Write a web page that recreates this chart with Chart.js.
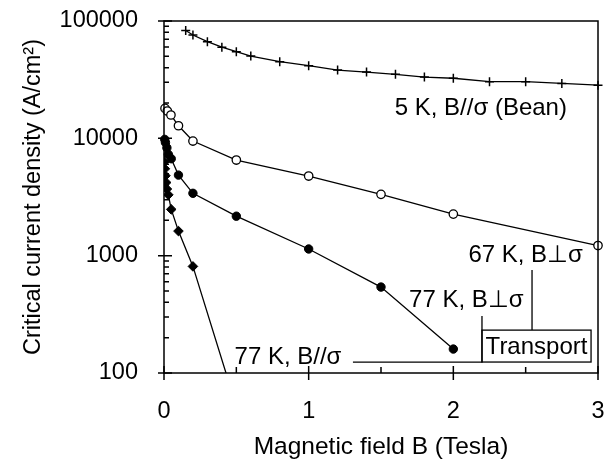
<!DOCTYPE html>
<html>
<head>
<meta charset="utf-8">
<script src="https://cdn.jsdelivr.net/npm/chart.js@4/dist/chart.umd.min.js"></script>
<style>
  html, body { margin: 0; padding: 0; background: #fff; }
  #wrap { width: 611px; height: 461px; position: relative; }
</style>
</head>
<body>
<div id="wrap"><canvas id="jcChart"></canvas></div>
<script>
// field B (Tesla) and critical current density (A/cm2)
var bean5K_B  = [0.15, 0.2, 0.3, 0.4, 0.5, 0.6, 0.8, 1.0, 1.2, 1.4, 1.6, 1.8, 2.0, 2.25, 2.5, 2.75, 3.0];
var bean5K_Jc = [83000, 76000, 66700, 59800, 54700, 50300, 45000, 41600, 38200, 36700, 35100, 33300, 32500, 30400, 30400, 29400, 28400];

var perp67K_B  = [0.007, 0.023, 0.048, 0.1, 0.2, 0.5, 1.0, 1.5, 2.0, 3.0];
var perp67K_Jc = [18000, 17100, 15800, 12800, 9480, 6530, 4770, 3330, 2260, 1220];

var perp77K_B  = [0.005, 0.01, 0.02, 0.03, 0.05, 0.1, 0.2, 0.5, 1.0, 1.5, 2.0];
var perp77K_Jc = [9800, 9200, 8300, 7300, 6700, 4860, 3400, 2170, 1140, 540, 160];

var par77K_B  = [0.003, 0.006, 0.01, 0.015, 0.02, 0.03, 0.05, 0.1, 0.2, 0.5];
var par77K_Jc = [6300, 5500, 4800, 4200, 3700, 3300, 2480, 1620, 810, 52];

var xTicks = [0, 1, 2, 3];
var xMinorTicks = [0.5, 1.5, 2.5];
var yTicks = [100, 1000, 10000, 100000];

// annotation text, placed in data units
var labels = [
  {text: '5 K, B//\u03c3 (Bean)', x: 2.19, y: 18100},
  {text: '67 K, B\u22a5\u03c3', x: 2.50, y: 1010},
  {text: '77 K, B\u22a5\u03c3', x: 2.09, y: 419},
  {text: '77 K, B//\u03c3', x: 0.857, y: 137}
];

var FONT = '"Liberation Sans", Arial, sans-serif';

function pairs(xs, ys) {
  return xs.map(function(x, i) { return {x: x, y: ys[i]}; });
}

var frameAndNotes = {
  id: 'frameAndNotes',
  afterDatasetsDraw: function(chart) {
    var ctx = chart.ctx;
    var a = chart.chartArea;
    var xs = chart.scales.x, ys = chart.scales.y;
    ctx.save();
    ctx.strokeStyle = '#000';
    ctx.lineWidth = 1.5;
    ctx.strokeRect(a.left, a.top, a.right - a.left, a.bottom - a.top);

    ctx.beginPath();
    // y ticks: majors cross the axis, minors point inward
    yTicks.forEach(function(v) {
      var py = ys.getPixelForValue(v);
      ctx.moveTo(a.left - 6, py); ctx.lineTo(a.left + 8, py);
    });
    for (var d = 100; d < 100000; d *= 10) {
      for (var k = 2; k <= 9; k++) {
        var py = ys.getPixelForValue(d * k);
        ctx.moveTo(a.left, py); ctx.lineTo(a.left + 5, py);
      }
    }
    xTicks.forEach(function(v) {
      var px = xs.getPixelForValue(v);
      ctx.moveTo(px, a.bottom + 7); ctx.lineTo(px, a.bottom - 7);
    });
    xMinorTicks.forEach(function(v) {
      var px = xs.getPixelForValue(v);
      ctx.moveTo(px, a.bottom); ctx.lineTo(px, a.bottom - 6);
    });
    ctx.stroke();

    // text labels
    ctx.fillStyle = '#000';
    ctx.font = '24px ' + FONT;
    ctx.textAlign = 'center';
    ctx.textBaseline = 'middle';
    labels.forEach(function(l) {
      ctx.fillText(l.text, xs.getPixelForValue(l.x), ys.getPixelForValue(l.y));
    });

    // "Transport" box with its leader lines
    var bx0 = xs.getPixelForValue(2.198), bx1 = xs.getPixelForValue(2.952);
    var by0 = ys.getPixelForValue(232), by1 = ys.getPixelForValue(124);
    ctx.lineWidth = 1.3;
    ctx.strokeRect(bx0, by0, bx1 - bx0, by1 - by0);
    ctx.fillText('Transport', (bx0 + bx1) / 2, (by0 + by1) / 2 + 1);
    ctx.beginPath();
    var lx = xs.getPixelForValue(2.544);
    ctx.moveTo(lx, ys.getPixelForValue(755)); ctx.lineTo(lx, by0);
    ctx.moveTo(bx0, ys.getPixelForValue(306)); ctx.lineTo(bx0, by1);
    ctx.lineTo(xs.getPixelForValue(1.306), by1);
    ctx.stroke();
    ctx.restore();
  }
};

var lineStyle = {borderColor: '#000', borderWidth: 1.3, tension: 0, showLine: true};

new Chart(document.getElementById('jcChart'), {
  type: 'scatter',
  data: {
    datasets: [
      Object.assign({
        label: '5 K, B//sigma (Bean)', data: pairs(bean5K_B, bean5K_Jc),
        pointStyle: 'cross', pointRadius: 4.5, pointBorderWidth: 1.5,
        pointBorderColor: '#000', pointBackgroundColor: '#000', clip: false
      }, lineStyle),
      Object.assign({
        label: '67 K, B perp sigma', data: pairs(perp67K_B, perp67K_Jc),
        pointStyle: 'circle', pointRadius: 4.2, pointBorderWidth: 1.3,
        pointBorderColor: '#000', pointBackgroundColor: '#fff', clip: false
      }, lineStyle),
      Object.assign({
        label: '77 K, B perp sigma', data: pairs(perp77K_B, perp77K_Jc),
        pointStyle: 'circle', pointRadius: 4.2, pointBorderWidth: 1,
        pointBorderColor: '#000', pointBackgroundColor: '#000', clip: false
      }, lineStyle),
      Object.assign({
        label: '77 K, B//sigma', data: pairs(par77K_B, par77K_Jc),
        pointStyle: 'rectRot', pointRadius: 4.8, pointBorderWidth: 1,
        pointBorderColor: '#000', pointBackgroundColor: '#000'
      }, lineStyle)
    ]
  },
  options: {
    responsive: true,
    maintainAspectRatio: false,
    animation: false,
    layout: {padding: {left: 0, top: 21, right: 13, bottom: 0}},
    plugins: {legend: {display: false}, tooltip: {enabled: false}},
    scales: {
      x: {
        type: 'linear', min: 0, max: 3,
        grid: {display: false, drawTicks: false},
        border: {display: false},
        afterBuildTicks: function(s) { s.ticks = xTicks.map(function(v) { return {value: v}; }); },
        ticks: {color: '#000', padding: 24, font: {family: FONT, size: 23.5}},
        title: {display: true, text: 'Magnetic field B (Tesla)', color: '#000',
                padding: {top: 0, bottom: 0}, font: {family: FONT, size: 24.5, lineHeight: 1.1}},
        afterFit: function(s) { s.height = 88; s.paddingLeft = 0; s.paddingRight = 0; }
      },
      y: {
        type: 'logarithmic', min: 100, max: 100000,
        grid: {display: false, drawTicks: false},
        border: {display: false},
        afterBuildTicks: function(s) { s.ticks = yTicks.map(function(v) { return {value: v}; }); },
        ticks: {color: '#000', padding: 26, font: {family: FONT, size: 23.5},
                callback: function(v) { return String(v); }},
        title: {display: true, text: 'Critical current density (A/cm\u00b2)', color: '#000',
                padding: {top: 19, bottom: 0}, font: {family: FONT, size: 23.5}},
        afterFit: function(s) { s.width = 164; s.paddingTop = 0; s.paddingBottom = 0; }
      }
    }
  },
  plugins: [frameAndNotes]
});
</script>
</body>
</html>
